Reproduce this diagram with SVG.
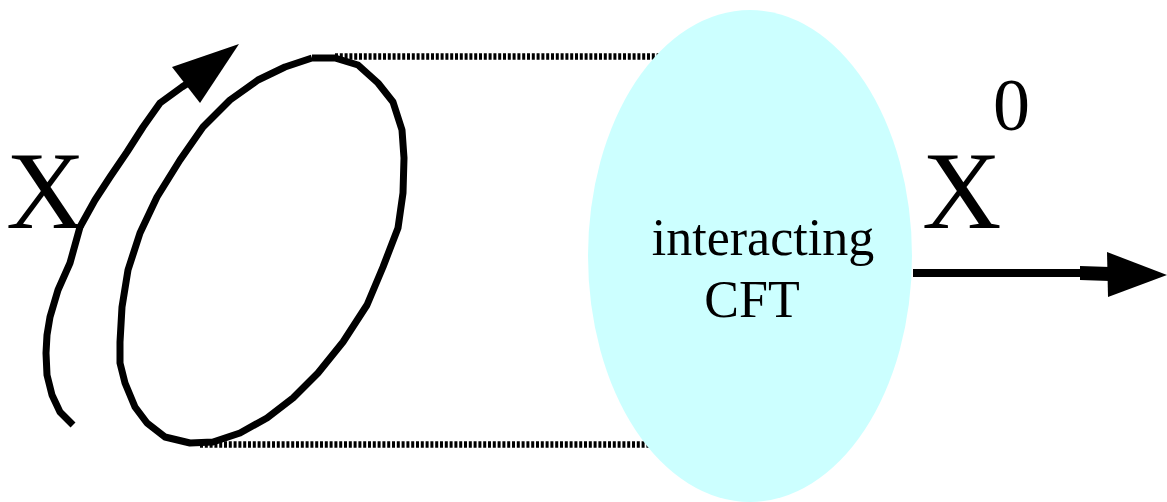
<svg xmlns="http://www.w3.org/2000/svg" width="1167" height="502" viewBox="0 0 1167 502">
<style>
.curve{fill:none;stroke:#000;stroke-width:7;stroke-linejoin:round;stroke-linecap:butt}
.dots{fill:none;stroke:#000;stroke-width:6.5;stroke-dasharray:3 1.8}
.big{font-family:"Liberation Serif","Times New Roman",serif;fill:#000}
</style>
<rect width="1167" height="502" fill="#fff"/>
<g id="connectors">
<line class="dots" x1="335" y1="56.5" x2="700" y2="56.5"/>
<line class="dots" x1="200" y1="444.5" x2="700" y2="444.5"/>
<line x1="913" y1="273" x2="1082" y2="273" stroke="#000" stroke-width="8"/>
<polygon points="1080,266 1110,267 1110,281 1080,280" fill="#000"/>
<polygon points="1107,252 1167,275 1108,297" fill="#000"/>
</g>
<g id="loop">
<polyline class="curve" points="312,58 335,58 358,65 378,83 393,102 402,130 404,158 403,193 398,228 383,267 367,305 343,342 318,373 293,398 267,418 240,433 213,442 190,443 165,437 147,423 135,407 125,383 120,363 120,342 122,307 128,270 140,233 157,197 180,160 203,127 230,100 258,80 285,67 312,58"/>
</g>
<g id="orbit-arrow">
<polyline class="curve" points="73,425 60,412 52,395 47,375 46,353 47,335 50,317 58,290 70,263 80,227 95,200 110,177 127,152 143,127 160,103 182,87 196,78"/>
<polygon points="172,67 239,44 200,103" fill="#000"/>
</g>
<g id="label-x-left">
<text class="big" x="6" y="228" font-size="110">X</text>
</g>
<g id="cft">
<ellipse cx="750" cy="256" rx="162" ry="246" fill="#ccffff"/>
<text class="big" x="763" y="255" font-size="52" text-anchor="middle">interacting</text>
<text class="big" x="752" y="317" font-size="52" text-anchor="middle">CFT</text>
</g>
<g id="label-x0">
<text class="big" x="922" y="228" font-size="110">X</text>
<text class="big" x="993" y="130" font-size="74">0</text>
</g>
</svg>
